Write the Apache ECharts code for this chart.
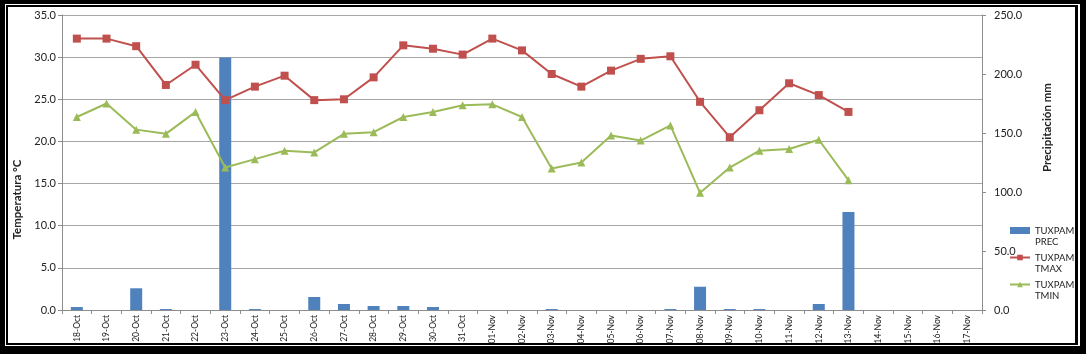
<!DOCTYPE html>
<html>
<head>
<meta charset="utf-8">
<script src="https://cdn.jsdelivr.net/npm/echarts@6/dist/echarts.min.js"></script>
<style>
  html, body { margin: 0; padding: 0; background: #000; }
  .frame-line { position: absolute; left: 5px; top: 4px; width: 1075px; height: 342px; background: #fff; }
  .frame-dark { position: absolute; left: 6px; top: 5px; width: 1072px; height: 340px; background: #000; }
  #chart { position: absolute; left: 8px; top: 7px; width: 1067px; height: 336px; background: #fff; }
</style>
</head>
<body>
<div class="frame-line"></div>
<div class="frame-dark"></div>
<div id="chart"></div>
<script>
  // fechas (18-Oct .. 17-Nov)
  const categories = [
    '18-Oct', '19-Oct', '20-Oct', '21-Oct', '22-Oct', '23-Oct', '24-Oct', '25-Oct', '26-Oct',
    '27-Oct', '28-Oct', '29-Oct', '30-Oct', '31-Oct', '01-Nov', '02-Nov', '03-Nov', '04-Nov',
    '05-Nov', '06-Nov', '07-Nov', '08-Nov', '09-Nov', '10-Nov', '11-Nov', '12-Nov', '13-Nov',
    '14-Nov', '15-Nov', '16-Nov', '17-Nov'
  ]
  // precipitación mm (eje derecho)
  const prec = [
    2.5, 0, 18.4, 0.8, 0, 214, 0.8, 0, 11, 5.1, 3.4, 3.4, 2.5, 0,
    0, 0, 0.8, 0, 0, 0, 0.8, 19.7, 0.8, 0.8, 0, 5.1, 83,
    null, null, null, null
  ]
  // temperatura máxima °C
  const tmax = [
    32.2, 32.2, 31.3, 26.7, 29.1, 24.9, 26.5, 27.8, 24.9, 25.0, 27.6, 31.4, 31.0, 30.3,
    32.2, 30.8, 28.0, 26.5, 28.4, 29.8, 30.1, 24.7, 20.5, 23.7, 26.9, 25.5, 23.5,
    null, null, null, null
  ]
  // temperatura mínima °C
  const tmin = [
    22.9, 24.5, 21.4, 20.9, 23.5, 16.9, 17.9, 18.9, 18.7, 20.9, 21.1, 22.9, 23.5, 24.3,
    24.4, 22.9, 16.8, 17.5, 20.7, 20.1, 21.9, 13.9, 16.9, 18.9, 19.1, 20.2, 15.4,
    null, null, null, null
  ]
  const seriesNames = ['TUXPAM PREC', 'TUXPAM TMAX', 'TUXPAM TMIN']

  const font = 'Lato, "DejaVu Sans", sans-serif'
  const textColor = '#222'
  const axisGray = '#8c8c8c'

  const myChart = echarts.init(document.getElementById('chart'))

  myChart.setOption({
    animation: false,
    textStyle: { fontFamily: font },
    grid: { left: 54, top: 8, right: 93, bottom: 33, outerBoundsMode: 'none' },
    legend: {
      orient: 'vertical',
      left: 1001,
      top: 207,
      padding: 0,
      itemWidth: 20,
      itemHeight: 7,
      itemGap: -6,
      data: [
        { name: seriesNames[0], icon: 'rect' },
        { name: seriesNames[1] },
        { name: seriesNames[2] }
      ],
      // línea vacía arriba para que el icono quede junto a la primera línea
      formatter: (name) => ' \n' + name.replace(' ', '\n'),
      textStyle: {
        color: textColor,
        fontSize: 9.5,
        lineHeight: 11
      }
    },
    xAxis: {
      type: 'category',
      data: categories,
      axisLine: { lineStyle: { color: axisGray } },
      axisTick: { show: true, length: 4, lineStyle: { color: axisGray } },
      axisLabel: { rotate: 90, fontSize: 8.5, color: textColor, margin: 5, interval: 0 }
    },
    yAxis: [
      {
        type: 'value',
        min: 0,
        max: 35,
        interval: 5,
        name: 'Temperatura °C',
        nameLocation: 'middle',
        nameRotate: 90,
        nameGap: 36,
        nameTextStyle: { fontSize: 11.5, fontWeight: 'bold', color: textColor, padding: [0, 74, 0, 0] },
        axisLine: { show: true, lineStyle: { color: axisGray } },
        axisTick: { show: true, length: 4, lineStyle: { color: axisGray } },
        axisLabel: {
          fontSize: 11,
          color: textColor,
          margin: 6,
          formatter: (v) => v.toFixed(1)
        },
        splitLine: { show: true, lineStyle: { color: '#a6a6a6', width: 1 } }
      },
      {
        type: 'value',
        min: 0,
        max: 250,
        interval: 50,
        position: 'right',
        name: 'Precipitación mm',
        nameLocation: 'middle',
        nameRotate: 90,
        nameGap: 59,
        nameTextStyle: { fontSize: 11.5, fontWeight: 'bold', color: textColor, padding: [0, 0, 0, 70] },
        axisLine: { show: true, lineStyle: { color: axisGray } },
        axisTick: { show: true, length: 4, lineStyle: { color: axisGray } },
        axisLabel: {
          fontSize: 11,
          color: textColor,
          margin: 12,
          formatter: (v) => v.toFixed(1)
        },
        splitLine: { show: false }
      }
    ],
    series: [
      {
        name: seriesNames[0],
        type: 'bar',
        yAxisIndex: 1,
        data: prec,
        barWidth: 12,
        itemStyle: { color: '#4f81bd' }
      },
      {
        name: seriesNames[1],
        type: 'line',
        data: tmax,
        symbol: 'rect',
        symbolSize: 8,
        lineStyle: { width: 2, color: '#c0504d' },
        itemStyle: { color: '#c0504d' }
      },
      {
        name: seriesNames[2],
        type: 'line',
        data: tmin,
        symbol: 'triangle',
        symbolSize: 8,
        lineStyle: { width: 2, color: '#9bbb59' },
        itemStyle: { color: '#9bbb59' }
      }
    ]
  })
</script>
</body>
</html>
